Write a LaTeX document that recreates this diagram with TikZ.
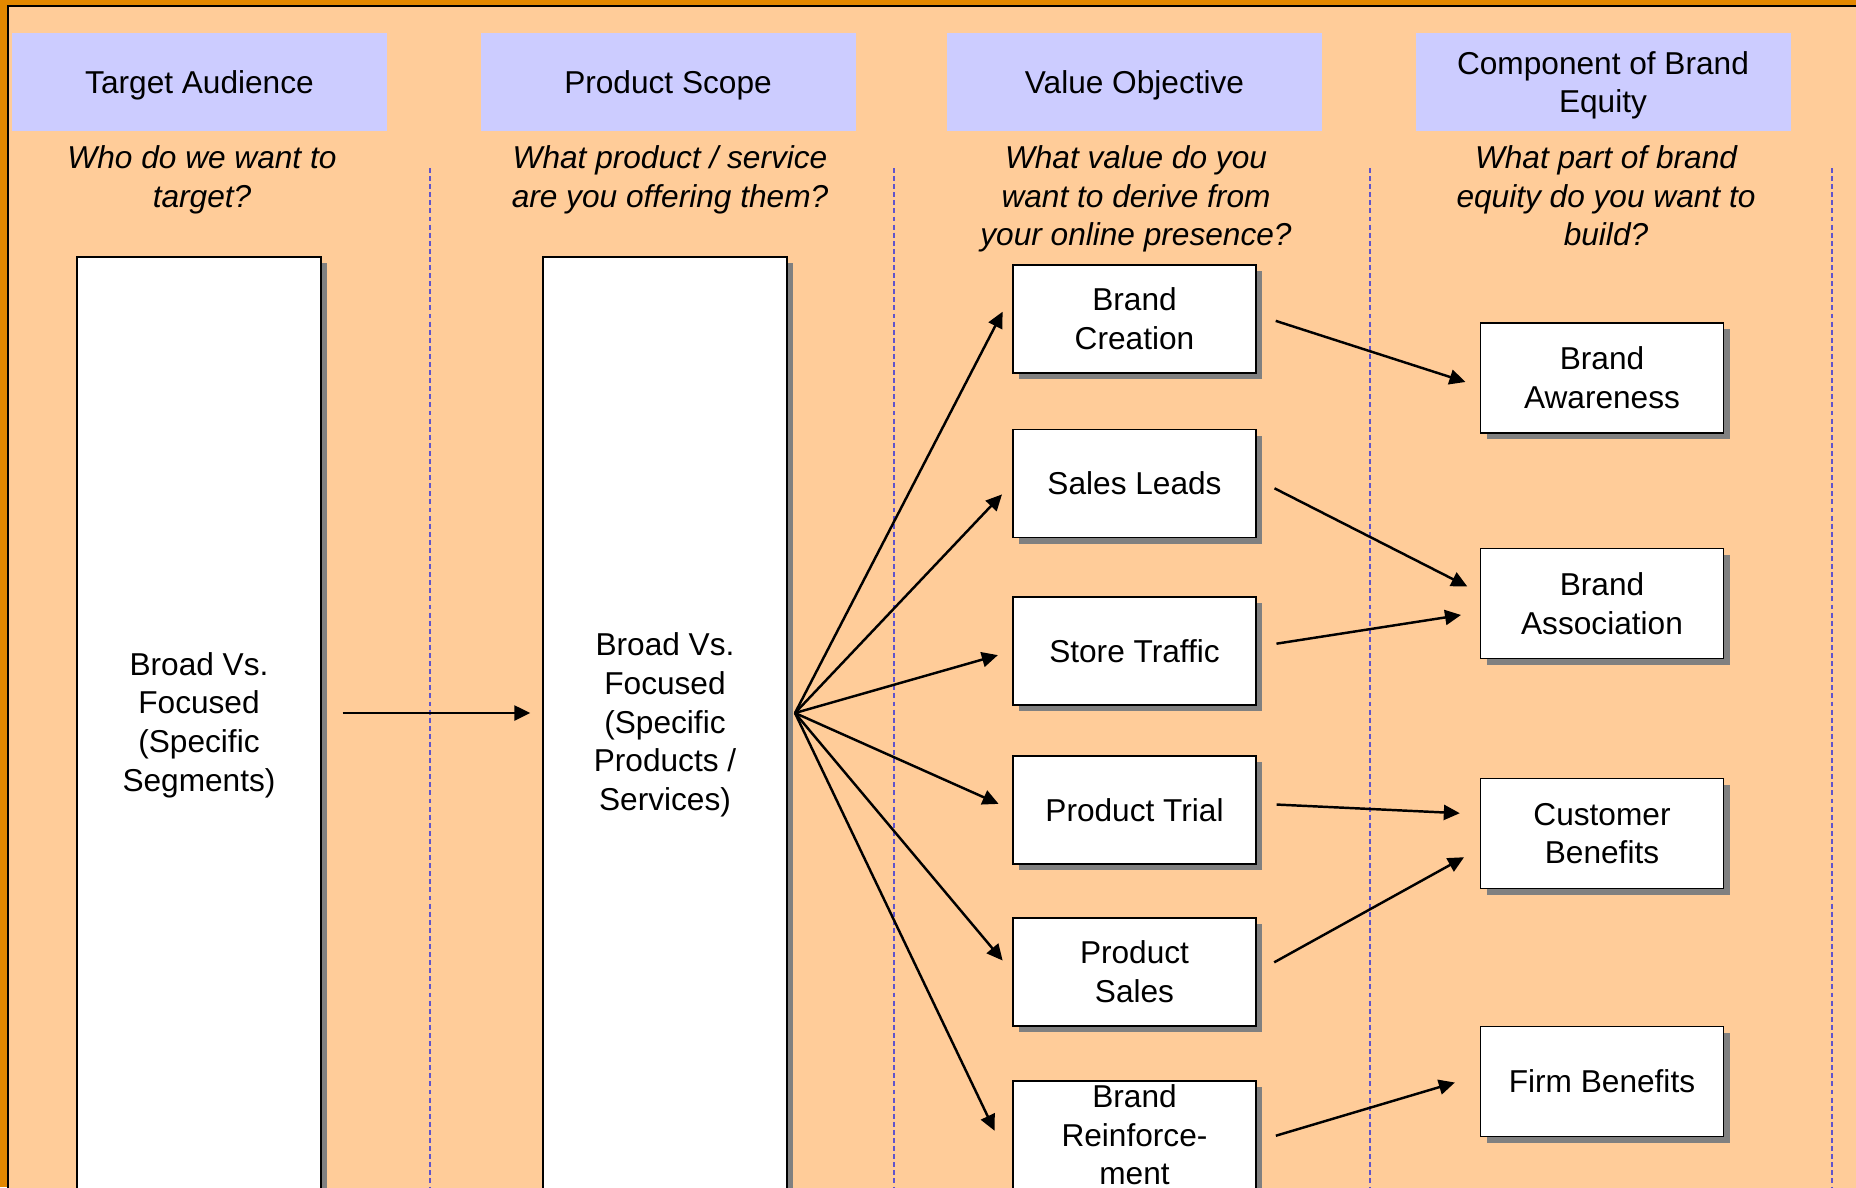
\documentclass[tikz,border=0pt]{standalone}
\usepackage{fontspec}
\setmainfont{Liberation Sans}
\usetikzlibrary{arrows.meta,shadows}

\definecolor{slideorange}{RGB}{227,136,0}
\definecolor{slidepeach}{RGB}{255,204,153}
\definecolor{headblue}{RGB}{204,204,255}
\definecolor{sepblue}{RGB}{96,84,204}
\definecolor{shadegray}{RGB}{128,128,128}

\begin{document}
\begin{tikzpicture}[x=0.1mm,y=-0.1mm,
    font=\fontsize{9}{11}\selectfont,
    head/.style={fill=headblue, minimum width=37.5mm, minimum height=9.8mm, align=center, inner sep=0pt, text depth=0pt},
    ask/.style={font=\fontsize{9}{11}\selectfont\itshape, align=center, anchor=north, inner sep=0pt},
    tall/.style={draw, fill=white, line width=0.4pt, minimum width=24.4mm, minimum height=93.6mm, align=center,
        drop shadow={shadow xshift=0.6mm, shadow yshift=-0.6mm, fill=shadegray, opacity=1}},
    box/.style={tall, minimum width=24.3mm, minimum height=10.8mm},
    link/.style={-{Triangle[length=1.6mm,width=1.5mm]}, line width=0.7pt},
    sep/.style={sepblue, line width=0.55pt, dash pattern=on 1.4pt off 0.9pt}]
    \useasboundingbox (0,0) rectangle (1856,1187);
    \clip (0,0) rectangle (1856,1187);

    % slide
    \fill[slideorange] (0,0) rectangle (1856,1187);
    \draw[fill=slidepeach, line width=0.6pt] (8,6) rectangle (1900,1250);

    % column separators
    \foreach \x in {430,894,1370,1832}
        \draw[sep] (\x,168) -- (\x,1187);

    % headers and questions
    \node[head] (HA) at (199.5,82) {Target Audience};
    \node[head] (HB) at (668,82) {Product Scope};
    \node[head] (HC) at (1134.5,82) {Value Objective};
    \node[head] (HD) at (1603,82) {Component of Brand\\Equity};

    \node[ask] (QA) at (202,145) {Who do we want to\\target?};
    \node[ask] (QB) at (670,145) {What product / service\\are you offering them?};
    \node[ask] (QC) at (1136,145) {What value do you\\want to derive from\\your online presence?};
    \node[ask] (QD) at (1606,145) {What part of brand\\equity do you want to\\build?};

    % tall boxes
    \node[tall] (AU) at (199,725) {Broad Vs.\\Focused\\(Specific\\Segments)};
    \node[tall] (SC) at (665,725) {Broad Vs.\\Focused\\(Specific\\Products /\\Services)};
    \coordinate (fan) at (795,713);

    % value objectives
    \node[box] (VA) at (1134.5,319) {Brand\\Creation};
    \node[box] (VB) at (1134.5,483.5) {Sales Leads};
    \node[box] (VC) at (1134.5,651) {Store Traffic};
    \node[box] (VD) at (1134.5,810) {Product Trial};
    \node[box] (VE) at (1134.5,972) {Product\\Sales};
    \node[box, inner ysep=0pt] (VF) at (1134.5,1135) {Brand\\Reinforce-\\ment};

    % brand equity
    \node[box, minimum height=11mm] (CA) at (1602,378) {Brand\\Awareness};
    \node[box, minimum height=11mm] (CB) at (1602,603.5) {Brand\\Association};
    \node[box, minimum height=11mm] (CC) at (1602,833.5) {Customer\\Benefits};
    \node[box, minimum height=11mm] (CD) at (1602,1081.5) {Firm Benefits};

    \draw[link, shorten <=2.1mm, shorten >=1.2mm] (AU.east |- fan) -- (SC.west |- fan);

    \draw[link, shorten >=2.1mm] (fan) -- (VA.168);
    \foreach \v in {VB,VC,VD,VE}
        \draw[link, shorten >=1.5mm] (fan) -- (\v.west);
    \draw[link, shorten >=4.1mm] (fan) -- (VF.195);

    \draw[link, shorten <=2mm, shorten >=1.5mm] (VA.2) -- (CA.184);
    \draw[link, shorten <=2mm, shorten >=1.4mm] (VB.2) -- (CB.175);
    \draw[link, shorten <=2mm, shorten >=1.9mm] (VC.2) -- (CB.184);
    \draw[link, shorten <=2mm, shorten >=2mm] (VD.3) -- (CC.171);
    \draw[link, shorten <=2mm, shorten >=1.8mm] (VE.east) -- (CC.187);
    \draw[link, shorten <=2mm, shorten >=2.6mm] (VF.357) -- (CD.177);
\end{tikzpicture}
\end{document}
